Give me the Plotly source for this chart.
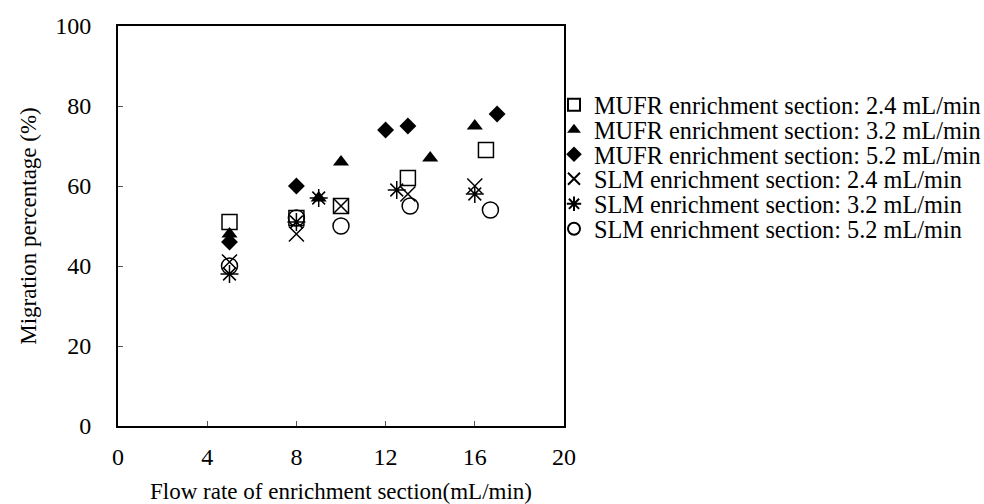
import plotly.graph_objects as go

# Data
mufr24_x = [5, 8, 10, 13, 16.5]
mufr24_y = [51, 52, 55, 62, 69]
mufr32_x = [5, 9, 10, 14, 16]
mufr32_y = [48, 57, 66, 67, 75]
mufr52_x = [5, 8, 12, 13, 17]
mufr52_y = [46, 60, 74, 75, 78]
slm24_x = [5, 8, 10, 13, 16]
slm24_y = [41, 48, 55, 58, 60]
slm32_x = [5, 8, 9, 12.5, 16]
slm32_y = [38, 51, 57, 59, 58]
slm52_x = [5, 8, 10, 13.1, 16.7]
slm52_y = [40, 52, 50, 55, 54]

series_names = [
    "MUFR enrichment section: 2.4 mL/min",
    "MUFR enrichment section: 3.2 mL/min",
    "MUFR enrichment section: 5.2 mL/min",
    "SLM enrichment section: 2.4 mL/min",
    "SLM enrichment section: 3.2 mL/min",
    "SLM enrichment section: 5.2 mL/min",
]
xticks = [0, 4, 8, 12, 16, 20]
yticks = [0, 20, 40, 60, 80, 100]

styles = [
    dict(symbol="square-open", size=15, line=dict(width=1.5, color="#333")),
    dict(symbol="triangle-up", size=14, color="black", line=dict(width=0)),
    dict(symbol="diamond", size=13, color="black", line=dict(width=0)),
    dict(symbol="x-thin-open", size=15, line=dict(width=1.5, color="black")),
    dict(symbol="asterisk-open", size=15, line=dict(width=1.5, color="black")),
    dict(symbol="circle-open", size=16, line=dict(width=1.5, color="black")),
]

data = [
    (mufr24_x, mufr24_y),
    (mufr32_x, mufr32_y),
    (mufr52_x, mufr52_y),
    (slm24_x, slm24_y),
    (slm32_x, slm32_y),
    (slm52_x, slm52_y),
]

font_family = "Liberation Serif, Times New Roman, serif"

fig = go.Figure()
legend_layout = {}
row_centers_px = [105, 130, 154.5, 179, 204, 229]
for i, ((xs, ys), name, st) in enumerate(zip(data, series_names, styles)):
    marker = dict(st)
    if "color" not in marker:
        marker["color"] = "black"
    lname = "legend" if i == 0 else f"legend{i + 1}"
    fig.add_trace(go.Scatter(x=xs, y=ys, mode="markers", name=name,
                             marker=marker, legend=lname))
    legend_layout[lname] = dict(
        x=(554 - 118) / 446, xanchor="left",
        y=(426 - row_centers_px[i]) / 400, yanchor="middle",
        font=dict(family=font_family, size=24.3, color="black"),
        itemsizing="constant",
        bgcolor="rgba(0,0,0,0)",
        borderwidth=0,
    )

fig.update_layout(
    width=984,
    height=504,
    margin=dict(l=118, r=420, t=26, b=78, autoexpand=False),
    paper_bgcolor="white",
    plot_bgcolor="white",
    font=dict(family=font_family, size=24, color="black"),
    showlegend=True,
    xaxis=dict(
        range=[0, 20], tickvals=xticks, ticktext=[str(v) for v in xticks],
        showgrid=False, zeroline=False,
        showline=True, linecolor="black", linewidth=2, mirror=True,
        ticks="inside", ticklen=5, tickwidth=1, tickcolor="#555",
        tickfont=dict(size=24), ticklabelstandoff=8, automargin=False,
        title=dict(text="Flow rate of enrichment section(mL/min)", font=dict(size=23), standoff=14),
    ),
    yaxis=dict(
        range=[0, 100], tickvals=yticks, ticktext=[str(v) for v in yticks],
        showgrid=False, zeroline=False,
        showline=True, linecolor="black", linewidth=2, mirror=True,
        ticks="inside", ticklen=5, tickwidth=1, tickcolor="#555",
        tickfont=dict(size=24), ticklabelstandoff=20, automargin=False,
        title=dict(text="Migration percentage (%)", font=dict(size=23), standoff=12),
    ),
    **legend_layout,
)

fig.write_html("out.html")
